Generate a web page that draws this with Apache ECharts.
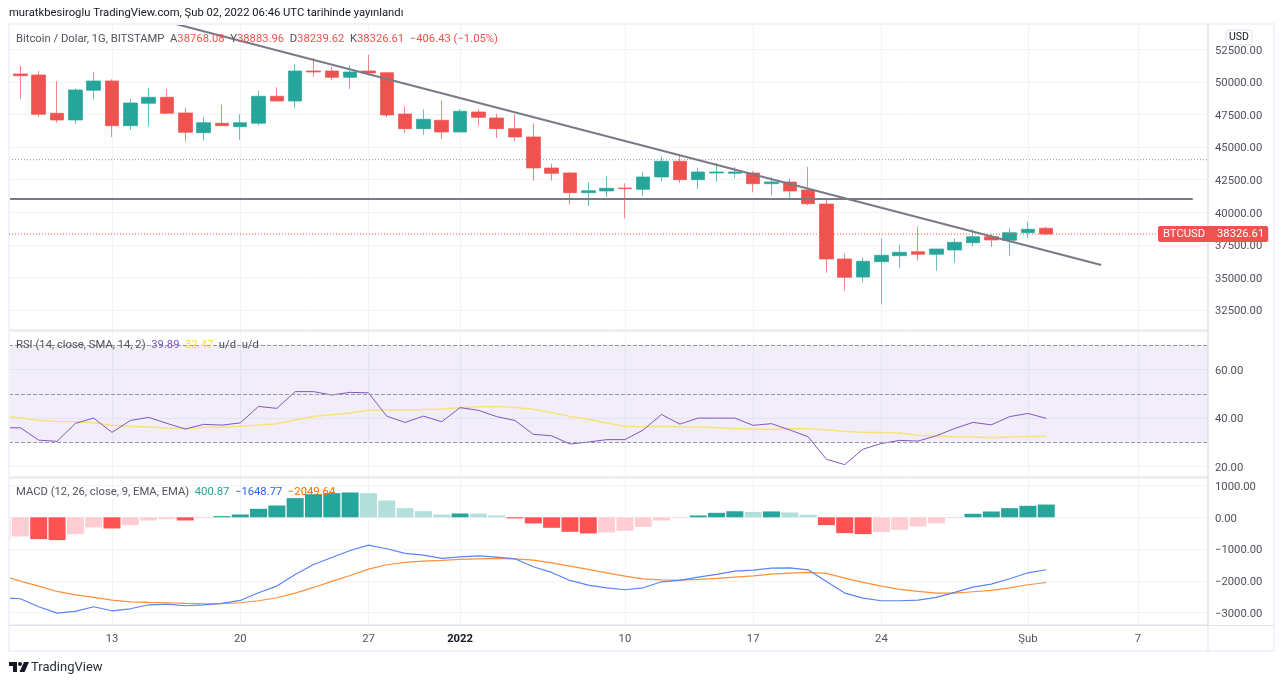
<!DOCTYPE html>
<html>
<head>
<meta charset="utf-8">
<title>BTCUSD</title>
<script src="https://cdn.jsdelivr.net/npm/echarts@6/dist/echarts.min.js"></script>
<style>
  html, body { margin: 0; padding: 0; background: #fff; }
  #chart { width: 1280px; height: 684px; }
</style>
</head>
<body>
<div id="chart"></div>
<script>
// Day number 0 = Dec 7 (only the indicators have a value there), candles start at day 1 = Dec 8.
const opens = [50599,50522,47585,47071,49349,50062,46634,48352,48812,47608,46097,46818,46557,46818,48889,48528,50829,50829,50346,50829,50699,47531,46404,47048,46151,47685,47225,46404,45768,43390,43007,41496,41626,41856,41757,42700,43904,42493,43007,42984,43007,42186,42316,41703,40629,36411,35031,36205,36665,36972,36772,37102,37661,38121,37845,38428,38768.08];
const closes = [50469,47508,47071,49372,50062,46634,48375,48812,47585,46128,46864,46634,46864,48889,48528,50829,50752,50346,50752,50676,47455,46404,47125,46151,47738,47278,46404,45768,43390,42984,41496,41649,41833,41803,42700,43904,42493,43083,43083,43083,42186,42316,41626,40652,36411,35008,36235,36695,36925,36772,37178,37692,38121,37868,38428,38689,38326.61];
const lows = [48682,47324,46864,46764,48659,45768,46304,46557,47531,45438,45484,46611,45560,46634,48505,47992,50392,50139,49449,50499,47278,46074,45944,45614,46151,46634,45691,45484,42416,42416,40576,40476,41166,39533,41266,42416,42263,41780,42340,42600,41527,41296,41090,40530,35361,33981,34625,32938,35698,36281,35514,36128,37355,37331,36642,38022,38239.62];
const highs = [51212,50829,50062,49502,50752,50193,48659,49502,49449,48015,47301,48245,47508,49318,49579,51343,51826,51136,51266,52079,50699,48122,47892,48551,47915,47915,47555,47508,46818,43720,43106,42293,42777,42217,43083,44288,44387,43413,43774,43467,43160,42677,42547,43467,41066,36818,36542,37999,37485,38889,37178,37999,38689,38306,38766,39272,38883.96];

const rsi = [36.0,36.0,30.9,30.4,37.8,40.0,34.1,39.0,40.3,37.8,35.5,37.4,37.1,38.0,44.8,44.0,50.9,50.9,49.5,50.6,50.4,40.8,38.2,40.8,38.5,44.3,43.2,40.6,39.0,33.3,32.7,29.3,30.1,31.1,31.1,35.1,41.5,37.5,40.0,40.0,40.0,37.0,37.7,35.1,32.3,23.0,20.8,27.2,29.5,30.8,30.5,32.7,35.7,38.2,37.2,40.6,41.9,39.89];
const rsiMa = [40.7,40.1,39.0,38.6,38.5,38.1,37.0,36.6,36.3,35.9,35.6,36.2,36.3,36.6,37.1,37.7,39.2,40.6,41.4,42.1,43.2,43.3,43.3,43.5,43.7,44.3,44.7,44.8,44.4,43.6,42.2,40.7,39.5,38.0,36.6,36.4,36.6,36.4,36.3,36.0,35.7,35.5,35.3,35.6,35.6,35.2,34.5,34.2,34.1,33.8,32.9,32.6,32.3,32.2,31.9,32.2,32.4,32.47];

const macdHist = [-707,-603,-686,-718,-529,-320,-351,-246,-100,-58,-100,-26,37,89,267,372,603,728,760,781,760,529,288,194,89,120,115,58,-37,-194,-330,-456,-508,-477,-424,-300,-100,-26,58,141,190,170,185,152,79,-246,-498,-529,-466,-393,-288,-194,-26,110,183,288,362,400.87];
const macdLine = [-2531,-2562,-2814,-3013,-2961,-2814,-2940,-2877,-2751,-2730,-2782,-2751,-2709,-2615,-2374,-2164,-1797,-1483,-1263,-1043,-875,-990,-1137,-1189,-1294,-1242,-1210,-1252,-1305,-1556,-1734,-1986,-2133,-2217,-2279,-2217,-2028,-1986,-1881,-1797,-1693,-1661,-1598,-1588,-1651,-2017,-2384,-2541,-2625,-2625,-2604,-2520,-2363,-2196,-2101,-1934,-1745,-1648.77];
const macdSignal = [-1829,-2007,-2164,-2332,-2437,-2520,-2604,-2657,-2678,-2688,-2709,-2719,-2719,-2688,-2625,-2531,-2384,-2206,-2017,-1829,-1630,-1493,-1420,-1378,-1357,-1326,-1305,-1294,-1305,-1347,-1431,-1535,-1640,-1745,-1850,-1934,-1965,-1976,-1955,-1923,-1881,-1839,-1787,-1755,-1734,-1766,-1913,-2049,-2164,-2269,-2332,-2384,-2384,-2342,-2300,-2217,-2122,-2049.64];

// drawings on the price pane
const trendDays = [9.48, 60];
const trendPrices = [54433, 35951];
const levelDays = [0, 65];
const levelPrices = [41013, 41013];
const dottedLevel = 44030;
const lastPrice = 38326.61;

// axis ticks
const dayTicks = [6, 13, 20, 25, 34, 41, 48, 56, 62];
const dayLabels = ['13', '20', '27', '2022', '10', '17', '24', 'Şub', '7'];
const priceTicks = [32500, 35000, 37500, 40000, 42500, 45000, 47500, 50000, 52500];
const rsiTicks = [20, 40, 60];
const macdTicks = [-3000, -2000, -1000, 0, 1000];
const rsiLevels = [70, 50, 30];

const DAY_MIN = 0.378;
const DAY_MAX = 65.83;

const FONT = 'Roboto, sans-serif';
const SIZE = 11.25;
const UP = '#26a69a';
const DOWN = '#ef5350';
const TEXT = '#50535e';
const GRID_LINE = '#f0f3fa';
const BORDER = '#e0e3eb';

function num(v) {
  return v.toFixed(2).replace('-', '\u2212');
}

function histColor(i) {
  const v = macdHist[i];
  const rising = i === 0 || macdHist[i - 1] < v;
  if (v >= 0) return rising ? UP : '#b2dfdb';
  return rising ? '#ffcdd2' : '#ff5252';
}

function pairs(values) {
  return values.map((v, i) => [i, v]);
}

function xAxisFor(gridIndex, withLabels) {
  return {
    type: 'value',
    gridIndex: gridIndex,
    min: DAY_MIN,
    max: DAY_MAX,
    axisLine: { show: false },
    axisTick: { show: false, customValues: dayTicks },
    splitLine: { show: true, lineStyle: { color: GRID_LINE, width: 1 } },
    axisLabel: {
      show: withLabels,
      customValues: dayTicks,
      margin: 8,
      padding: [1, 0, 0, 0],
      fontFamily: FONT,
      fontSize: SIZE,
      color: TEXT,
      hideOverlap: false,
      formatter: function (v) {
        const label = dayLabels[dayTicks.indexOf(v)];
        return label === '2022' ? '{b|2022}' : label;
      },
      rich: { b: { fontFamily: FONT, fontSize: SIZE, fontWeight: 'bold', color: '#131722' } }
    }
  };
}

function yAxisFor(gridIndex, min, max, ticks) {
  return {
    type: 'value',
    gridIndex: gridIndex,
    position: 'right',
    min: min,
    max: max,
    axisLine: { show: false },
    axisTick: { show: false, customValues: ticks },
    splitLine: { show: true, lineStyle: { color: GRID_LINE, width: 1 } },
    axisLabel: {
      customValues: ticks,
      margin: 7,
      formatter: v => '{v|' + num(v) + '}',
      // top padding on the token nudges the text down onto the grid line
      rich: { v: { fontFamily: FONT, fontSize: SIZE, color: TEXT, padding: [3, 0, 0, 0] } }
    }
  };
}

function legendRich() {
  const rich = {};
  const colors = { t: TEXT, r: DOWN, p: '#7e57c2', y: '#fdd835', g: UP, b: '#2962ff', o: '#ff6d00' };
  Object.keys(colors).forEach(k => {
    rich[k] = { fontFamily: FONT, fontSize: SIZE, fontWeight: 'normal', color: colors[k] };
  });
  return rich;
}

function legend(text, left, top) {
  return { text: text, left: left, top: top, padding: 0, textStyle: { fontSize: SIZE, fontWeight: 'normal', rich: legendRich() } };
}

const chart = echarts.init(document.getElementById('chart'));

chart.setOption({
  animation: false,
  backgroundColor: '#fff',
  textStyle: { fontFamily: FONT },
  title: [
    { text: 'muratkbesiroglu TradingView.com, Şub 02, 2022 06:46 UTC tarihinde yayınlandı', left: 9, top: 8, padding: 0,
      textStyle: { fontFamily: FONT, fontSize: SIZE, fontWeight: 'normal', color: '#131722' } },
    legend('{t|Bitcoin / Dolar, 1G, BITSTAMP  A}{r|38768.08}{t|  Y}{r|38883.96}{t|  D}{r|38239.62}{t|  K}{r|38326.61}{r|  \u2212406.43 (\u22121.05%)}', 16, 34),
    legend('{t|RSI (14, close, SMA, 14, 2)}  {p|39.89}  {y|32.47}  {t|u/d  u/d}', 16, 340),
    legend('{t|MACD (12, 26, close, 9, EMA, EMA)}  {g|400.87}  {b|\u22121648.77}  {o|\u22122049.64}', 16, 487),
    { text: 'TradingView', left: 31, top: 661, padding: 0,
      textStyle: { fontFamily: FONT, fontSize: 13, fontWeight: 'normal', color: '#2a2e39' } }
  ],
  grid: [
    { left: 9, width: 1199, top: 24, height: 306, show: true, borderColor: BORDER, borderWidth: 1 },
    { left: 9, width: 1199, top: 331, height: 146, show: true, borderColor: BORDER, borderWidth: 1 },
    { left: 9, width: 1199, top: 478, height: 147, show: true, borderColor: BORDER, borderWidth: 1 }
  ],
  xAxis: [xAxisFor(0, false), xAxisFor(1, false), xAxisFor(2, true)],
  yAxis: [
    yAxisFor(0, 30966, 54432, priceTicks),
    yAxisFor(1, 15.7, 75.9, rsiTicks),
    yAxisFor(2, -3387, 1236, macdTicks)
  ],
  series: [
    {
      type: 'line',
      xAxisIndex: 0,
      yAxisIndex: 0,
      showSymbol: false,
      silent: true,
      data: [[DAY_MIN, dottedLevel], [DAY_MAX, dottedLevel]],
      lineStyle: { color: '#9598a1', type: [1, 2], width: 1 },
      z: 1
    },
    {
      type: 'candlestick',
      xAxisIndex: 0,
      yAxisIndex: 0,
      barWidth: 14,
      data: opens.map((o, i) => [i + 1, o, closes[i], lows[i], highs[i]]),
      itemStyle: {
        color: UP,
        color0: DOWN,
        borderColor: 'rgba(38,166,154,0.7)',
        borderColor0: 'rgba(239,83,80,0.7)',
        borderWidth: 1
      }
    },
    {
      // last price: dotted line and the tag on the price scale, above the scale separator
      type: 'line',
      xAxisIndex: 0,
      yAxisIndex: 0,
      showSymbol: false,
      silent: true,
      data: [[DAY_MIN, lastPrice], [DAY_MAX, lastPrice]],
      lineStyle: { color: DOWN, type: [1, 2], width: 1 },
      z: 10,
      endLabel: {
        show: true,
        offset: [-58, 0],
        formatter: '{a|BTCUSD}{b|' + lastPrice.toFixed(2) + '}',
        backgroundColor: DOWN,
        padding: [3, 4, 2, 5],
        borderRadius: 2,
        rich: {
          a: { fontFamily: FONT, fontSize: SIZE, color: '#fff', width: 54 },
          b: { fontFamily: FONT, fontSize: SIZE, color: '#fff' }
        }
      }
    },
    {
      type: 'line',
      xAxisIndex: 0,
      yAxisIndex: 0,
      showSymbol: false,
      silent: true,
      data: trendDays.map((d, i) => [d, trendPrices[i]]),
      lineStyle: { color: '#787b86', width: 2 },
      z: 4
    },
    {
      type: 'line',
      xAxisIndex: 0,
      yAxisIndex: 0,
      showSymbol: false,
      silent: true,
      data: levelDays.map((d, i) => [d, levelPrices[i]]),
      lineStyle: { color: '#787b86', width: 2 },
      z: 4
    },
    {
      type: 'line',
      xAxisIndex: 1,
      yAxisIndex: 1,
      showSymbol: false,
      silent: true,
      data: pairs(rsi),
      lineStyle: { color: '#7e57c2', width: 1 },
      z: 4,
      markArea: {
        silent: true,
        itemStyle: { color: 'rgba(126,87,194,0.1)' },
        data: [[{ yAxis: rsiLevels[0] }, { yAxis: rsiLevels[2] }]]
      },
      markLine: {
        silent: true,
        symbol: 'none',
        animation: false,
        label: { show: false },
        lineStyle: { color: '#9598a1', type: 'dashed', width: 1 },
        data: rsiLevels.map(v => ({ yAxis: v }))
      }
    },
    {
      type: 'line',
      xAxisIndex: 1,
      yAxisIndex: 1,
      showSymbol: false,
      silent: true,
      data: pairs(rsiMa),
      lineStyle: { color: '#f7e27a', width: 1.5 },
      z: 3
    },
    {
      type: 'bar',
      xAxisIndex: 2,
      yAxisIndex: 2,
      barWidth: 17,
      clip: true,
      silent: true,
      data: pairs(macdHist),
      itemStyle: { color: params => histColor(params.dataIndex) }
    },
    {
      type: 'line',
      xAxisIndex: 2,
      yAxisIndex: 2,
      showSymbol: false,
      silent: true,
      data: pairs(macdSignal),
      lineStyle: { color: '#ff8f3a', width: 1.2 },
      z: 3
    },
    {
      type: 'line',
      xAxisIndex: 2,
      yAxisIndex: 2,
      showSymbol: false,
      silent: true,
      data: pairs(macdLine),
      lineStyle: { color: '#5b84f5', width: 1.2 },
      z: 4
    }
  ],
  graphic: [
    // the first histogram bar hangs over the left edge of the pane
    { type: 'rect', silent: true, z: 5, shape: { x: 0, y: 478, width: 8, height: 147 }, style: { fill: '#fff' } },
    // frame, price scale and time scale separators
    { type: 'rect', silent: true, z: 6, shape: { x: 9, y: 24, width: 1265, height: 627 },
      style: { fill: 'none', stroke: GRID_LINE, lineWidth: 2 } },
    { type: 'line', silent: true, z: 6, shape: { x1: 1208, y1: 24, x2: 1208, y2: 651 },
      style: { stroke: BORDER, lineWidth: 1 } },
    { type: 'line', silent: true, z: 6, shape: { x1: 9, y1: 625.5, x2: 1274, y2: 625.5 },
      style: { stroke: BORDER, lineWidth: 1 } },
    // currency button
    { type: 'rect', z: 20, silent: true, shape: { x: 1226, y: 30, width: 26, height: 15, r: 3 },
      style: { fill: '#fff', stroke: BORDER, lineWidth: 1 } },
    { type: 'text', z: 21, silent: true, x: 1239, y: 37.5,
      style: { text: 'USD', fontFamily: FONT, fontSize: 10.5, fill: '#131722', textAlign: 'center', textVerticalAlign: 'middle' } },
    // TradingView mark
    { type: 'group', x: 9, y: 662, silent: true, children: [
      { type: 'polygon', shape: { points: [[0, 0], [8, 0], [8, 10], [4, 10], [4, 4], [0, 4]] }, style: { fill: '#131722' } },
      { type: 'circle', shape: { cx: 11, cy: 2, r: 2 }, style: { fill: '#131722' } },
      { type: 'polygon', shape: { points: [[15, 0], [20, 0], [15.5, 10], [10.5, 10]] }, style: { fill: '#131722' } }
    ] }
  ]
});
</script>
</body>
</html>
